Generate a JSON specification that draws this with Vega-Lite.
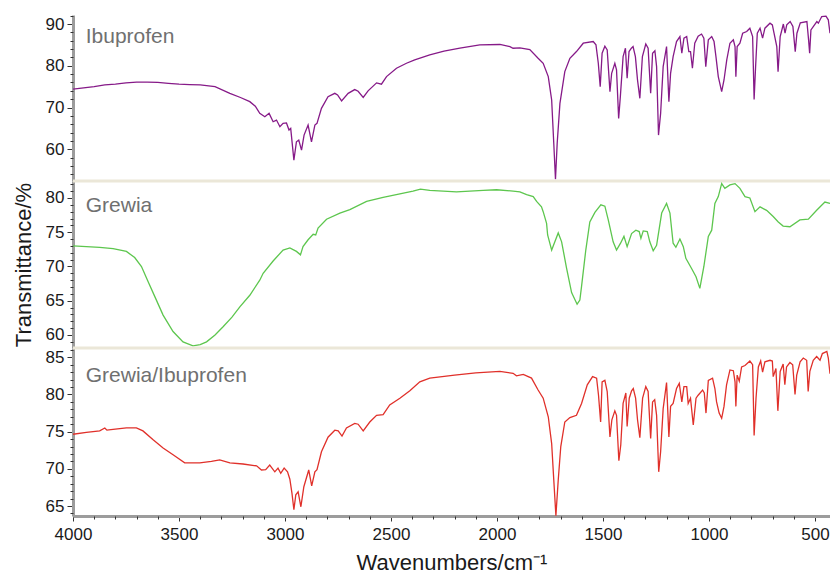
{
"$schema": "https://vega.github.io/schema/vega-lite/v6.json",
"padding": {"left": 12, "top": 15, "right": 0, "bottom": 0},
"background": "white",
"config": {
  "font": "Liberation Sans",
  "view": {"stroke": null},
  "axis": {"domainColor": "#9c9c9c", "domainWidth": 3, "tickColor": "#333333", "tickWidth": 1, "labelFontSize": 17, "labelColor": "#1a1a1a", "titleFontSize": 22, "titleFontWeight": "normal", "titleColor": "#1a1a1a", "grid": false, "labelPadding": 3, "labelOverlap": false, "labelFlush": false}
},
"datasets": {
  "ibu": [[4000,74.4],[3950,74.7],[3900,75.0],[3850,75.4],[3800,75.6],[3750,75.9],[3700,76.1],[3650,76.1],[3600,76.0],[3550,75.8],[3500,75.6],[3450,75.5],[3400,75.4],[3330,75.0],[3260,73.4],[3210,72.4],[3166,71.4],[3140,70.3],[3119,68.6],[3095,67.8],[3075,68.6],[3056,66.6],[3040,67.0],[3024,65.4],[3009,66.2],[2993,66.3],[2981,64.6],[2973,65.0],[2958,57.4],[2946,61.8],[2935,62.2],[2922,59.8],[2910,63.4],[2891,65.8],[2875,61.8],[2859,65.8],[2849,66.2],[2828,69.8],[2797,72.6],[2765,73.4],[2752,73.0],[2733,71.6],[2702,73.4],[2671,74.3],[2655,73.9],[2631,72.4],[2608,74.0],[2568,75.9],[2545,75.6],[2521,77.4],[2474,79.4],[2427,80.6],[2388,81.4],[2317,82.6],[2250,83.5],[2175,84.2],[2081,85.0],[1986,85.1],[1939,84.6],[1924,84.2],[1892,84.3],[1845,83.9],[1806,81.8],[1782,80.6],[1758,77.4],[1742,71.8],[1732,61.4],[1724,52.8],[1716,61.4],[1703,71.0],[1680,78.6],[1656,81.8],[1625,83.4],[1593,85.4],[1546,85.8],[1533,85.0],[1522,80.6],[1513,75.0],[1504,83.0],[1491,84.7],[1480,83.8],[1467,73.8],[1459,78.2],[1444,80.6],[1436,79.0],[1426,67.4],[1418,72.6],[1405,82.2],[1394,84.2],[1386,77.0],[1377,83.4],[1366,84.2],[1358,84.6],[1347,82.2],[1337,76.6],[1326,72.2],[1314,82.2],[1298,85.2],[1287,84.2],[1275,73.4],[1266,83.0],[1255,83.6],[1247,79.8],[1238,63.4],[1228,68.6],[1216,79.8],[1200,84.6],[1189,71.4],[1181,78.2],[1169,82.2],[1153,85.8],[1137,87.0],[1128,83.0],[1118,86.6],[1105,87.0],[1095,83.4],[1087,83.4],[1078,79.4],[1067,85.4],[1051,87.1],[1035,87.6],[1024,86.6],[1015,79.8],[1003,86.2],[987,87.0],[976,85.8],[967,82.2],[956,77.4],[940,73.8],[929,76.6],[916,81.4],[901,85.4],[885,86.2],[877,84.6],[873,77.4],[867,84.6],[854,85.4],[841,87.8],[822,88.2],[807,89.0],[794,87.0],[787,71.9],[780,79.8],[772,87.8],[759,89.0],[747,86.6],[736,89.0],[712,90.2],[701,89.8],[693,87.8],[680,84.6],[674,78.6],[664,87.0],[649,90.0],[641,87.8],[633,89.8],[617,90.6],[604,89.4],[593,83.4],[585,87.8],[569,90.3],[538,90.6],[530,86.2],[525,83.0],[519,88.6],[491,90.6],[484,90.2],[468,91.8],[448,91.9],[437,91.0],[429,87.8]],
  "grew": [[4000,73.0],[3937,72.9],[3874,72.8],[3811,72.6],[3748,72.2],[3709,71.3],[3677,70.0],[3646,67.8],[3614,65.6],[3575,62.9],[3528,60.5],[3481,59.0],[3434,58.4],[3400,58.6],[3370,59.0],[3330,60.0],[3292,61.2],[3250,62.6],[3213,64.1],[3166,65.8],[3119,68.0],[3103,69.0],[3056,70.8],[3009,72.4],[2977,72.7],[2946,72.2],[2927,71.7],[2915,72.9],[2891,73.9],[2867,74.7],[2855,74.6],[2844,75.6],[2804,76.9],[2741,77.8],[2694,78.3],[2615,79.5],[2537,80.1],[2458,80.6],[2396,81.0],[2361,81.3],[2317,81.1],[2191,80.9],[2065,81.1],[2002,81.2],[1924,81.0],[1892,80.9],[1860,80.5],[1829,80.2],[1813,79.5],[1790,78.7],[1782,78.0],[1766,76.3],[1761,74.6],[1742,72.4],[1727,73.6],[1711,74.9],[1695,73.6],[1672,69.8],[1648,66.2],[1622,64.5],[1609,65.1],[1601,67.1],[1581,72.4],[1562,76.5],[1538,77.9],[1510,79.0],[1491,78.8],[1475,76.8],[1452,73.6],[1436,72.4],[1417,73.4],[1401,74.4],[1386,72.9],[1365,74.8],[1345,75.3],[1329,75.1],[1321,74.1],[1310,75.2],[1291,75.1],[1279,73.6],[1263,72.3],[1247,73.1],[1223,77.8],[1200,79.2],[1184,77.8],[1169,73.4],[1156,72.8],[1137,74.0],[1121,72.9],[1109,71.2],[1082,69.7],[1061,68.5],[1043,66.8],[1024,70.0],[1003,74.4],[987,75.3],[972,79.2],[956,80.2],[940,82.1],[925,81.4],[901,81.9],[877,82.1],[854,81.4],[830,80.2],[807,80.0],[783,78.0],[759,78.7],[728,78.2],[697,77.3],[673,76.5],[650,75.9],[618,75.8],[571,76.8],[531,76.9],[492,78.2],[453,79.4],[429,79.2]],
  "gi": [[4000,74.65],[3937,74.9],[3874,75.1],[3850,75.5],[3840,75.2],[3811,75.3],[3748,75.5],[3701,75.5],[3670,75.1],[3622,73.9],[3575,72.8],[3528,71.9],[3473,70.8],[3402,70.8],[3347,71.0],[3308,71.2],[3260,70.8],[3198,70.65],[3134,70.4],[3111,69.85],[3091,69.9],[3072,70.5],[3048,69.6],[3033,70.1],[3020,69.4],[3004,70.1],[2988,69.6],[2977,68.6],[2967,66.7],[2958,64.5],[2949,66.5],[2938,66.9],[2925,64.9],[2911,67.6],[2888,69.85],[2874,67.7],[2859,69.6],[2849,69.9],[2828,72.3],[2797,74.25],[2765,75.2],[2749,75.1],[2731,74.4],[2710,75.5],[2671,76.1],[2655,76.0],[2631,75.1],[2600,76.3],[2568,77.2],[2537,77.3],[2506,78.6],[2458,79.5],[2411,80.5],[2364,81.7],[2317,82.2],[2200,82.6],[2100,82.9],[1986,83.1],[1924,82.85],[1908,82.5],[1876,82.7],[1837,82.2],[1806,80.6],[1782,79.5],[1758,77.0],[1742,73.4],[1732,68.5],[1722,63.7],[1711,68.5],[1699,73.0],[1680,76.3],[1656,76.9],[1625,77.2],[1601,78.8],[1574,81.3],[1549,82.4],[1530,82.2],[1521,79.9],[1511,76.3],[1504,81.7],[1491,81.9],[1480,80.4],[1467,74.3],[1458,76.6],[1444,77.8],[1436,77.2],[1425,71.1],[1416,73.2],[1405,78.8],[1392,80.2],[1386,75.7],[1376,79.5],[1365,80.5],[1357,80.8],[1346,79.5],[1337,76.6],[1326,74.2],[1313,79.5],[1298,81.05],[1287,80.4],[1275,74.1],[1266,79.0],[1256,79.3],[1247,77.2],[1237,69.6],[1228,72.3],[1216,78.1],[1200,81.6],[1189,74.3],[1181,78.4],[1169,78.8],[1153,80.8],[1140,81.5],[1128,79.0],[1118,81.05],[1105,81.05],[1098,78.8],[1087,79.5],[1074,75.9],[1061,79.5],[1051,79.9],[1030,80.6],[1022,80.2],[1014,77.5],[1003,81.9],[983,82.2],[972,80.8],[964,79.0],[952,77.5],[940,76.8],[929,78.4],[917,81.3],[901,83.3],[885,83.2],[877,81.7],[873,78.4],[867,82.6],[857,81.8],[846,83.7],[830,83.9],[807,84.5],[794,84.0],[787,74.5],[778,79.5],[767,83.7],[756,84.5],[747,83.0],[736,84.4],[712,84.6],[701,84.5],[697,82.4],[684,83.5],[675,77.8],[664,83.1],[650,84.1],[642,81.3],[634,83.7],[618,84.3],[605,84.0],[594,80.0],[586,82.6],[570,84.4],[555,84.9],[539,84.6],[532,80.4],[524,83.1],[508,84.6],[492,85.1],[476,84.6],[465,85.5],[444,85.8],[437,84.9],[429,82.8]]
},
"spacing": 0,
"bounds": "flush",
"resolve": {"scale": {"x": "independent", "y": "independent"}},
"vconcat": [
  {
    "width": 757, "height": 166,
    "resolve": {"axis": {"y": "independent"}},
    "layer": [
      {
        "data": {"name": "ibu"},
        "transform": [{"calculate": "datum[0]", "as": "wn"}, {"calculate": "datum[1]", "as": "t"}],
        "mark": {"type": "line", "color": "#861a88", "strokeWidth": 1.3, "clip": true},
        "encoding": {
          "x": {"field": "wn", "type": "quantitative", "scale": {"domain": [4000, 429], "nice": false, "zero": false}, "axis": null},
          "y": {"field": "t", "type": "quantitative", "scale": {"domain": [52.4, 92.16], "nice": false, "zero": false},
                "axis": {"orient": "left", "title": null, "values": [60, 70, 80, 90], "tickSize": 6, "domain": true}}
        }
      },
      {
        "data": {"values": [{}]},
        "mark": {"type": "text", "align": "left", "baseline": "alphabetic", "fontSize": 21, "color": "#707070"},
        "encoding": {
          "x": {"datum": 3940, "type": "quantitative"},
          "y": {"datum": 85.4, "type": "quantitative",
                "axis": {"orient": "left", "title": null, "labels": false, "domain": false, "tickSize": 3,
                         "values": [54,56,58,62,64,66,68,72,74,76,78,82,84,86,88,92]}},
          "text": {"value": "Ibuprofen"}}
      }
    ]
  },
  {
    "width": 757, "height": 167,
    "resolve": {"axis": {"y": "independent"}},
    "layer": [
      {
        "data": {"values": [{}]},
        "mark": {"type": "rule", "color": "#ebe7d8", "strokeWidth": 3},
        "encoding": {"y": {"datum": 82.48, "type": "quantitative", "axis": null}}
      },
      {
        "data": {"name": "grew"},
        "transform": [{"calculate": "datum[0]", "as": "wn"}, {"calculate": "datum[1]", "as": "t"}],
        "mark": {"type": "line", "color": "#5dc64e", "strokeWidth": 1.3, "clip": true},
        "encoding": {
          "x": {"field": "wn", "type": "quantitative", "scale": {"domain": [4000, 429], "nice": false, "zero": false}, "axis": null},
          "y": {"field": "t", "type": "quantitative", "scale": {"domain": [58.1, 82.48], "nice": false, "zero": false},
                "axis": {"orient": "left", "title": "Transmittance/%", "titlePadding": 10, "values": [60, 65, 70, 75, 80], "tickSize": 6}}
        }
      },
      {
        "data": {"values": [{}]},
        "mark": {"type": "text", "align": "left", "baseline": "alphabetic", "fontSize": 21, "color": "#707070"},
        "encoding": {
          "x": {"datum": 3940, "type": "quantitative"},
          "y": {"datum": 77.9, "type": "quantitative",
                "axis": {"orient": "left", "title": null, "labels": false, "domain": false, "tickSize": 3,
                         "values": [59,61,62,63,64,66,67,68,69,71,72,73,74,76,77,78,79,81,82]}},
          "text": {"value": "Grewia"}}
      }
    ]
  },
  {
    "width": 757, "height": 168,
    "resolve": {"axis": {"y": "independent", "x": "independent"}},
    "layer": [
      {
        "data": {"values": [{}]},
        "mark": {"type": "rule", "color": "#ebe7d8", "strokeWidth": 3},
        "encoding": {"y": {"datum": 86.25, "type": "quantitative", "axis": null}}
      },
      {
        "data": {"name": "gi"},
        "transform": [{"calculate": "datum[0]", "as": "wn"}, {"calculate": "datum[1]", "as": "t"}],
        "mark": {"type": "line", "color": "#e0302a", "strokeWidth": 1.3, "clip": true},
        "encoding": {
          "x": {"field": "wn", "type": "quantitative", "scale": {"domain": [4000, 429], "nice": false, "zero": false},
                "axis": {"orient": "bottom", "title": "Wavenumbers/cm⁻¹", "titlePadding": 10, "format": "d", "labelPadding": 5, "tickSize": 5,
                         "values": [4000, 3500, 3000, 2500, 2000, 1500, 1000, 500]}},
          "y": {"field": "t", "type": "quantitative", "scale": {"domain": [63.66, 86.25], "nice": false, "zero": false},
                "axis": {"orient": "left", "title": null, "values": [65, 70, 75, 80, 85], "tickSize": 6}}
        }
      },
      {
        "data": {"values": [{}]},
        "mark": {"type": "text", "align": "left", "baseline": "alphabetic", "fontSize": 21, "color": "#707070"},
        "encoding": {
          "x": {"datum": 3940, "type": "quantitative",
                "axis": {"orient": "bottom", "title": null, "labels": false, "domain": false, "tickSize": 3,
                         "values": [3900,3800,3700,3600,3400,3300,3200,3100,2900,2800,2700,2600,2400,2300,2200,2100,1900,1800,1700,1600,1400,1300,1200,1100,900,800,700,600]}},
          "y": {"datum": 81.7, "type": "quantitative",
                "axis": {"orient": "left", "title": null, "labels": false, "domain": false, "tickSize": 3,
                         "values": [64,66,67,68,69,71,72,73,74,76,77,78,79,81,82,83,84,86]}},
          "text": {"value": "Grewia/Ibuprofen"}}
      }
    ]
  }
]
}
